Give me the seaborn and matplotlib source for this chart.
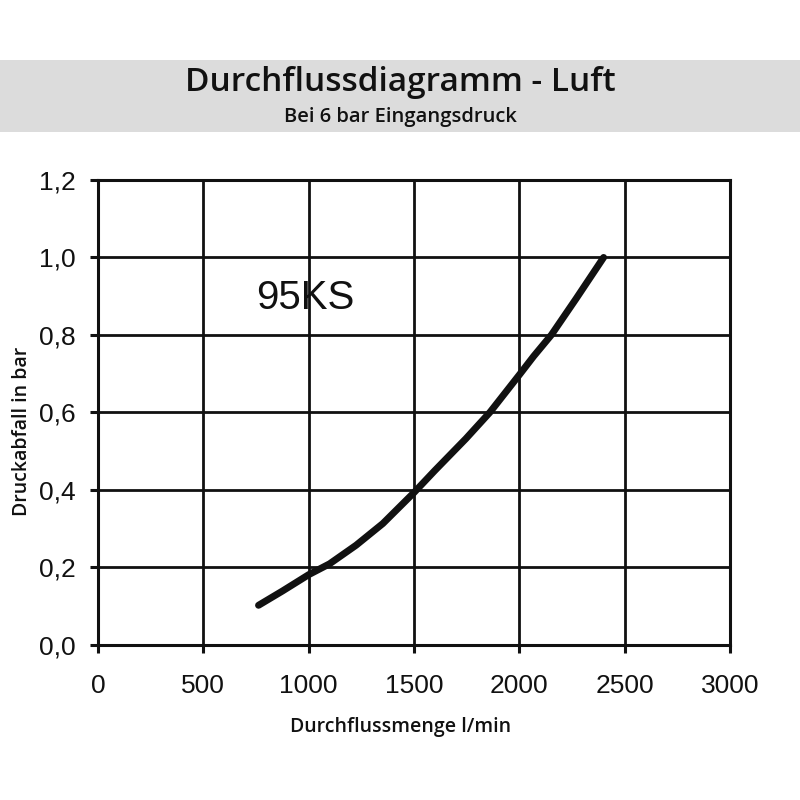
import numpy as np
import pandas as pd
import seaborn as sns
import matplotlib.pyplot as plt
from matplotlib.patches import Rectangle

# Values
flow = [762, 876, 1000, 1099, 1225, 1352, 1500, 1599, 1746, 1860, 2000, 2068, 2152, 2270, 2400]
drop = [0.102, 0.139, 0.181, 0.209, 0.257, 0.313, 0.393, 0.45, 0.532, 0.60, 0.697, 0.745, 0.80, 0.894, 1.0]
x_ticks = [0, 500, 1000, 1500, 2000, 2500, 3000]
y_ticks = [0.0, 0.2, 0.4, 0.6, 0.8, 1.0, 1.2]
y_labels = ["0,0", "0,2", "0,4", "0,6", "0,8", "1,0", "1,2"]

df = pd.DataFrame({"flow": flow, "drop": drop})

sns.set_theme(style="ticks")
plt.rcParams["font.family"] = ["Liberation Sans", "DejaVu Sans"]

fig = plt.figure(figsize=(8, 8), dpi=100)
ax = fig.add_axes([0.1225, 0.194, 0.79, 0.581])

# grey header band
fig.patches.append(Rectangle((0, 0.835), 1, 0.09, transform=fig.transFigure,
                             facecolor="#dcdcdc", edgecolor="none", zorder=0))
fig.text(0.5, 0.897, "Durchflussdiagramm - Luft", ha="center", va="center",
         fontsize=24, fontweight="semibold", family="Open Sans", color="#111111")
fig.text(0.5, 0.854, "Bei 6 bar Eingangsdruck", ha="center", va="center",
         fontsize=14.5, fontweight="semibold", family="Open Sans", color="#111111")

sns.lineplot(data=df, x="flow", y="drop", ax=ax, color="#111111", linewidth=5,
             solid_capstyle="round", solid_joinstyle="round", sort=False)

ax.set_xlim(0, 3000)
ax.set_ylim(0, 1.2)
ax.set_xticks(x_ticks)
ax.set_yticks(y_ticks)
ax.set_yticklabels(y_labels)
ax.grid(True, color="#111111", linewidth=2.0)
ax.set_axisbelow(True)
for s in ax.spines.values():
    s.set_visible(True)
    s.set_color("#111111")
    s.set_linewidth(2.2)
ax.tick_params(axis="both", labelsize=19, color="#111111", width=2.2, length=6,
               labelcolor="#111111")
ax.tick_params(axis="x", pad=15)
ax.tick_params(axis="y", pad=10)

ax.set_xlabel("Durchflussmenge l/min", fontsize=14, fontweight="semibold",
              family="Open Sans", color="#111111", va="center")
ax.set_ylabel("Druckabfall in bar", fontsize=14, fontweight="semibold",
              family="Open Sans", color="#111111", va="center")
ax.xaxis.set_label_coords(0.479, -0.176)
ax.yaxis.set_label_coords(-0.120, 0.46)

ax.text(752, 0.895, "95KS", fontsize=29, va="center", ha="left", color="#111111")

fig.savefig("out.png", dpi=100)
